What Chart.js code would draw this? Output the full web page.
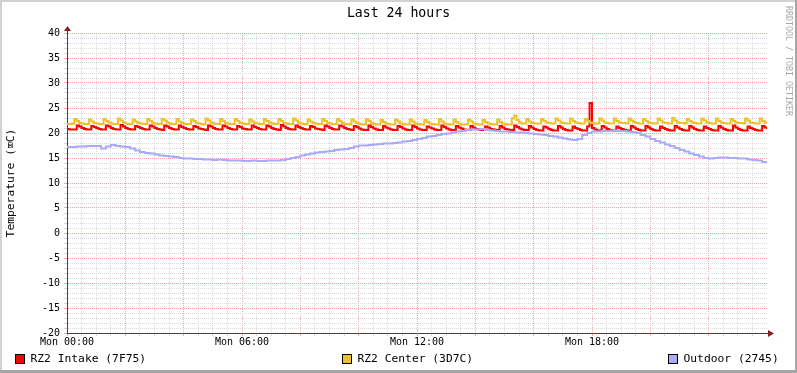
<!DOCTYPE html>
<html>
<head>
<meta charset="utf-8">
<script src="https://cdn.jsdelivr.net/npm/chart.js@4/dist/chart.umd.min.js"></script>
<style>
html,body{margin:0;padding:0;background:#ffffff;}
#wrap{width:797px;height:373px;position:relative;}
canvas{display:block;}
</style>
</head>
<body>
<div id="wrap"><canvas id="c" width="797" height="373"></canvas></div>
<script>
// ---------- DATA ----------
const chartTitle = 'Last 24 hours';
const yAxisTitle = 'Temperature (\u2327C)';
const watermark = 'RRDTOOL / TOBI OETIKER';
const seriesNames = ['RZ2 Intake (7F75)', 'RZ2 Center (3D7C)', 'Outdoor (2745)'];
const seriesColors = ['#FF0000', '#EBC22A', '#AAAAF8'];
const xTickMinutes = [0, 360, 720, 1080];
const xTickLabels = ['Mon 00:00', 'Mon 06:00', 'Mon 12:00', 'Mon 18:00'];
const yMin = -20, yMax = 40;
const indoorStepMin = 5;   // sample spacing of intake / center (minutes)
const outdoorStepMin = 10; // sample spacing of outdoor (minutes)

const intake = [
20.8,20.7,20.7,20.7,21.5,21.3,21.0,20.8,20.7,20.7,21.4,21.2,
21.0,20.8,20.7,20.7,21.5,21.3,21.0,20.8,20.7,20.7,21.6,21.3,
21.0,20.8,20.7,20.7,21.4,21.2,21.0,20.8,20.7,20.7,21.5,21.3,
21.0,20.8,20.7,20.6,21.5,21.3,21.0,20.8,20.7,20.7,21.5,21.2,
21.0,20.8,20.7,20.7,21.4,21.2,20.9,20.8,20.7,20.6,21.5,21.3,
21.0,20.8,20.7,20.7,21.5,21.3,21.0,20.8,20.7,20.7,21.4,21.2,
20.9,20.8,20.7,20.7,21.5,21.2,21.0,20.8,20.7,20.7,21.5,21.3,
21.0,20.8,20.7,20.6,21.6,21.3,21.0,20.8,20.7,20.7,21.5,21.2,
21.0,20.8,20.7,20.7,21.4,21.2,20.9,20.8,20.7,20.6,21.5,21.3,
21.0,20.8,20.7,20.7,21.5,21.3,21.0,20.8,20.7,20.6,21.4,21.2,
20.9,20.7,20.6,20.6,21.5,21.2,20.9,20.7,20.6,20.6,21.4,21.1,
20.9,20.7,20.6,20.6,21.4,21.2,20.9,20.7,20.6,20.6,21.5,21.2,
20.9,20.7,20.6,20.6,21.3,21.1,20.9,20.7,20.6,20.6,21.5,21.2,
20.9,20.7,20.6,20.6,21.4,21.1,20.9,20.7,20.6,20.6,21.4,21.1,
20.8,20.7,20.6,20.6,21.3,21.1,20.8,20.7,20.6,20.6,21.4,21.1,
20.8,20.7,20.6,20.6,21.5,21.2,20.9,20.7,20.6,20.6,21.4,21.1,
20.8,20.6,20.5,20.5,21.3,21.1,20.8,20.6,20.5,20.5,21.4,21.1,
20.8,20.6,20.5,20.5,21.3,21.0,20.8,20.6,20.5,20.5,21.3,26.0,
21.0,20.7,20.5,20.5,21.4,21.1,20.8,20.6,20.5,20.5,21.3,21.0,
20.8,20.6,20.5,20.5,21.4,21.1,20.8,20.6,20.5,20.5,21.4,21.1,
20.8,20.6,20.5,20.5,21.3,21.0,20.8,20.6,20.5,20.5,21.4,21.1,
20.8,20.6,20.5,20.5,21.4,21.1,20.8,20.6,20.5,20.5,21.3,21.0,
20.8,20.6,20.5,20.5,21.4,21.1,20.8,20.6,20.5,20.5,21.5,21.1,
20.8,20.6,20.5,20.5,21.3,21.0,20.8,20.6,20.5,20.5,21.4,21.1,
20.8
];

const center = [
21.8,21.8,21.9,22.8,22.4,22.0,21.9,21.8,21.8,22.7,22.3,22.0,
21.9,21.8,21.8,22.8,22.4,22.1,21.9,21.8,21.8,22.9,22.5,22.1,
21.9,21.8,21.8,22.7,22.3,22.0,21.9,21.8,21.8,22.8,22.4,22.0,
21.9,21.8,21.8,22.8,22.5,22.1,21.9,21.8,21.8,22.8,22.3,22.0,
21.8,21.8,21.8,22.7,22.4,22.0,21.9,21.8,21.7,22.9,22.5,22.1,
21.9,21.8,21.8,22.8,22.4,22.0,21.9,21.8,21.8,22.8,22.4,22.0,
21.9,21.8,21.8,22.7,22.3,22.0,21.9,21.8,21.8,22.8,22.4,22.1,
21.9,21.8,21.8,22.8,22.4,22.0,21.9,21.8,21.8,22.9,22.5,22.1,
21.9,21.8,21.7,22.7,22.3,22.0,21.9,21.8,21.8,22.8,22.4,22.0,
21.9,21.8,21.8,22.8,22.4,22.0,21.8,21.8,21.7,22.7,22.3,22.0,
21.8,21.7,21.7,22.8,22.4,22.0,21.8,21.7,21.7,22.6,22.2,21.9,
21.8,21.7,21.7,22.7,22.3,21.9,21.8,21.7,21.7,22.7,22.3,21.9,
21.8,21.7,21.7,22.6,22.2,21.9,21.8,21.7,21.7,22.8,22.3,21.9,
21.8,21.7,21.7,22.7,22.2,21.9,21.7,21.7,21.7,22.7,22.3,21.9,
21.8,21.7,21.7,22.6,22.2,21.9,21.8,21.7,21.7,22.7,22.2,21.9,
21.8,21.7,21.7,22.9,23.5,22.6,22.1,21.9,21.9,22.8,22.3,22.0,
21.9,21.9,21.9,22.8,22.4,22.1,22.0,21.9,21.9,22.9,22.5,22.1,
22.0,21.9,21.9,22.9,22.4,22.1,22.0,21.9,21.9,22.8,22.4,22.1,
22.0,21.9,21.9,22.9,22.5,22.1,22.0,21.9,21.9,22.9,22.4,22.1,
22.0,22.0,21.9,22.9,22.5,22.2,22.0,21.9,21.9,22.8,22.4,22.1,
22.0,21.9,21.9,22.9,22.5,22.1,22.0,21.9,21.9,23.0,22.5,22.1,
22.0,22.0,21.9,22.8,22.4,22.1,22.0,21.9,21.9,22.9,22.5,22.1,
22.0,21.9,21.9,22.9,22.4,22.1,22.0,21.9,21.9,22.8,22.4,22.1,
22.0,22.0,21.9,22.9,22.5,22.1,22.0,21.9,21.9,22.9,22.4,22.1,
22.0
];

const outdoor = [
17.2,17.2,17.3,17.3,17.4,17.4,17.4,16.9,17.3,17.6,17.4,17.3,
17.2,16.9,16.5,16.2,16.0,15.9,15.7,15.5,15.4,15.3,15.2,15.0,
14.9,14.9,14.8,14.8,14.7,14.7,14.6,14.7,14.6,14.5,14.5,14.5,
14.4,14.4,14.5,14.4,14.4,14.5,14.5,14.5,14.6,14.8,15.0,15.2,
15.5,15.7,15.9,16.1,16.2,16.3,16.4,16.6,16.7,16.8,17.0,17.3,
17.5,17.5,17.6,17.7,17.8,17.9,17.9,18.0,18.1,18.3,18.4,18.6,
18.8,19.0,19.3,19.4,19.6,19.8,19.9,20.1,20.3,20.4,20.6,20.7,
20.7,20.8,20.6,20.5,20.4,20.3,20.3,20.2,20.1,20.1,20.0,19.9,
19.8,19.7,19.6,19.4,19.3,19.1,18.9,18.7,18.6,18.8,19.6,20.0,
20.3,20.3,20.4,20.4,20.5,20.4,20.4,20.3,20.2,20.0,19.6,19.3,
18.8,18.4,18.1,17.7,17.4,17.0,16.6,16.3,15.9,15.6,15.3,15.0,
14.9,15.0,15.1,15.1,15.0,15.0,14.9,14.9,14.7,14.6,14.5,14.2,
14.0
];

// ---------- STYLE ----------
const FONT = "'DejaVu Sans Mono', 'Liberation Mono', monospace";
const minorGrid = '#dadada';
const majorGrid = '#eeaaaa';
const axisColor = '#464040';
const arrowColor = '#8a1e1e';
const legendX = [15, 342, 668];

const toPts = (arr, step) => arr.map((v, i) => ({x: i * step, y: v}));

const decor = {
  id: 'decor',
  beforeDraw(chart) {
    const ctx = chart.ctx, W = chart.width, H = chart.height;
    ctx.save();
    ctx.fillStyle = '#ffffff';
    ctx.fillRect(0, 0, W, H);
    ctx.restore();
  },
  afterDraw(chart) {
    const ctx = chart.ctx, W = chart.width, H = chart.height;
    const a = chart.chartArea;
    ctx.save();
    // outer shade frame
    ctx.fillStyle = '#d2d2d2';
    ctx.fillRect(0, 0, W, 2);
    ctx.fillRect(0, 0, 2, H);
    ctx.fillStyle = '#a6a6a6';
    ctx.fillRect(0, H - 3, W, 3);
    ctx.fillRect(W - 2, 0, 2, H);
    // axis extensions + arrows
    const ax = Math.round(a.left) + 0.5, ay = Math.round(a.bottom) + 0.5;
    ctx.strokeStyle = axisColor; ctx.lineWidth = 1;
    ctx.beginPath();
    ctx.moveTo(ax, a.top); ctx.lineTo(ax, a.top - 3);
    ctx.moveTo(a.right, ay); ctx.lineTo(a.right + 2, ay);
    ctx.stroke();
    ctx.fillStyle = arrowColor;
    ctx.beginPath();
    ctx.moveTo(ax, a.top - 7); ctx.lineTo(ax - 3.5, a.top - 2); ctx.lineTo(ax + 3.5, a.top - 2); ctx.closePath();
    ctx.fill();
    ctx.beginPath();
    ctx.moveTo(a.right + 7, ay); ctx.lineTo(a.right + 1, ay - 3.5); ctx.lineTo(a.right + 1, ay + 3.5); ctx.closePath();
    ctx.fill();
    // legend
    ctx.font = '11.3px ' + FONT;
    ctx.textBaseline = 'middle';
    ctx.textAlign = 'left';
    chart.data.datasets.forEach((ds, i) => {
      const bx = legendX[i], by = 354;
      ctx.fillStyle = ds.borderColor;
      ctx.fillRect(bx, by, 10, 10);
      ctx.strokeStyle = '#000000';
      ctx.lineWidth = 1;
      ctx.strokeRect(bx + 0.5, by + 0.5, 9, 9);
      ctx.fillStyle = '#000000';
      ctx.fillText(ds.label, bx + 15.5, by + 5);
    });
    // watermark
    ctx.translate(788, 6);
    ctx.rotate(Math.PI / 2);
    ctx.font = '8.3px ' + FONT;
    ctx.fillStyle = '#a8a8a8';
    ctx.textBaseline = 'middle';
    ctx.fillText(watermark, 0, 0);
    ctx.restore();
  }
};

const gridColor = (ctx, majorEvery, lastVal) => {
  const v = ctx.tick ? ctx.tick.value : 0;
  if (lastVal !== null && v === lastVal) return 'rgba(0,0,0,0)';
  return (Math.abs(v) % majorEvery === 0) ? majorGrid : minorGrid;
};

new Chart(document.getElementById('c'), {
  type: 'line',
  data: {
    datasets: [
      {label: seriesNames[0], data: toPts(intake, indoorStepMin), borderColor: seriesColors[0], backgroundColor: seriesColors[0], order: 2},
      {label: seriesNames[1], data: toPts(center, indoorStepMin), borderColor: seriesColors[1], backgroundColor: seriesColors[1], order: 1},
      {label: seriesNames[2], data: toPts(outdoor, outdoorStepMin), borderColor: seriesColors[2], backgroundColor: seriesColors[2], order: 0}
    ]
  },
  options: {
    responsive: false,
    animation: false,
    devicePixelRatio: 1,
    layout: {padding: {left: 0, right: 0, top: 0, bottom: 0}},
    elements: {
      line: {borderWidth: 2, stepped: 'before', tension: 0},
      point: {radius: 0, hoverRadius: 0}
    },
    plugins: {
      legend: {display: false},
      tooltip: {enabled: false},
      title: {
        display: true, text: chartTitle, color: '#000000',
        font: {family: FONT, size: 13.2, weight: 'normal', lineHeight: 1.2},
        padding: {top: 6, bottom: 11.16}
      }
    },
    scales: {
      x: {
        type: 'linear', min: 0, max: 1440,
        afterFit(s) { s.height = 40; },
        ticks: {
          stepSize: 30, autoSkip: false, maxRotation: 0, padding: 0,
          color: '#000000', font: {family: FONT, size: 10},
          callback(v) { const k = xTickMinutes.indexOf(v); return k >= 0 ? xTickLabels[k] : ''; }
        },
        grid: {
          color: (c) => gridColor(c, 120, 1440),
          tickLength: 3, lineWidth: 1
        },
        border: {display: true, color: axisColor, width: 1, dash: [1, 1]}
      },
      y: {
        type: 'linear', min: yMin, max: yMax,
        afterFit(s) { s.width = 67; },
        ticks: {
          stepSize: 1, autoSkip: false, padding: 4,
          color: '#000000', font: {family: FONT, size: 10},
          callback(v) { return v % 5 === 0 ? String(v) : ''; }
        },
        grid: {
          color: (c) => gridColor(c, 5, null),
          tickLength: 3, lineWidth: 1
        },
        border: {display: true, color: axisColor, width: 1, dash: [1, 1]},
        title: {
          display: true, text: yAxisTitle, color: '#000000',
          font: {family: FONT, size: 11.3, lineHeight: 1.2},
          padding: {top: 4, bottom: 0}
        }
      },
      yRight: {
        type: 'linear', position: 'right', min: yMin, max: yMax,
        afterFit(s) { s.width = 30; },
        ticks: {display: false},
        grid: {display: false, drawOnChartArea: false},
        border: {display: false}
      }
    }
  },
  plugins: [decor]
});
</script>
</body>
</html>
